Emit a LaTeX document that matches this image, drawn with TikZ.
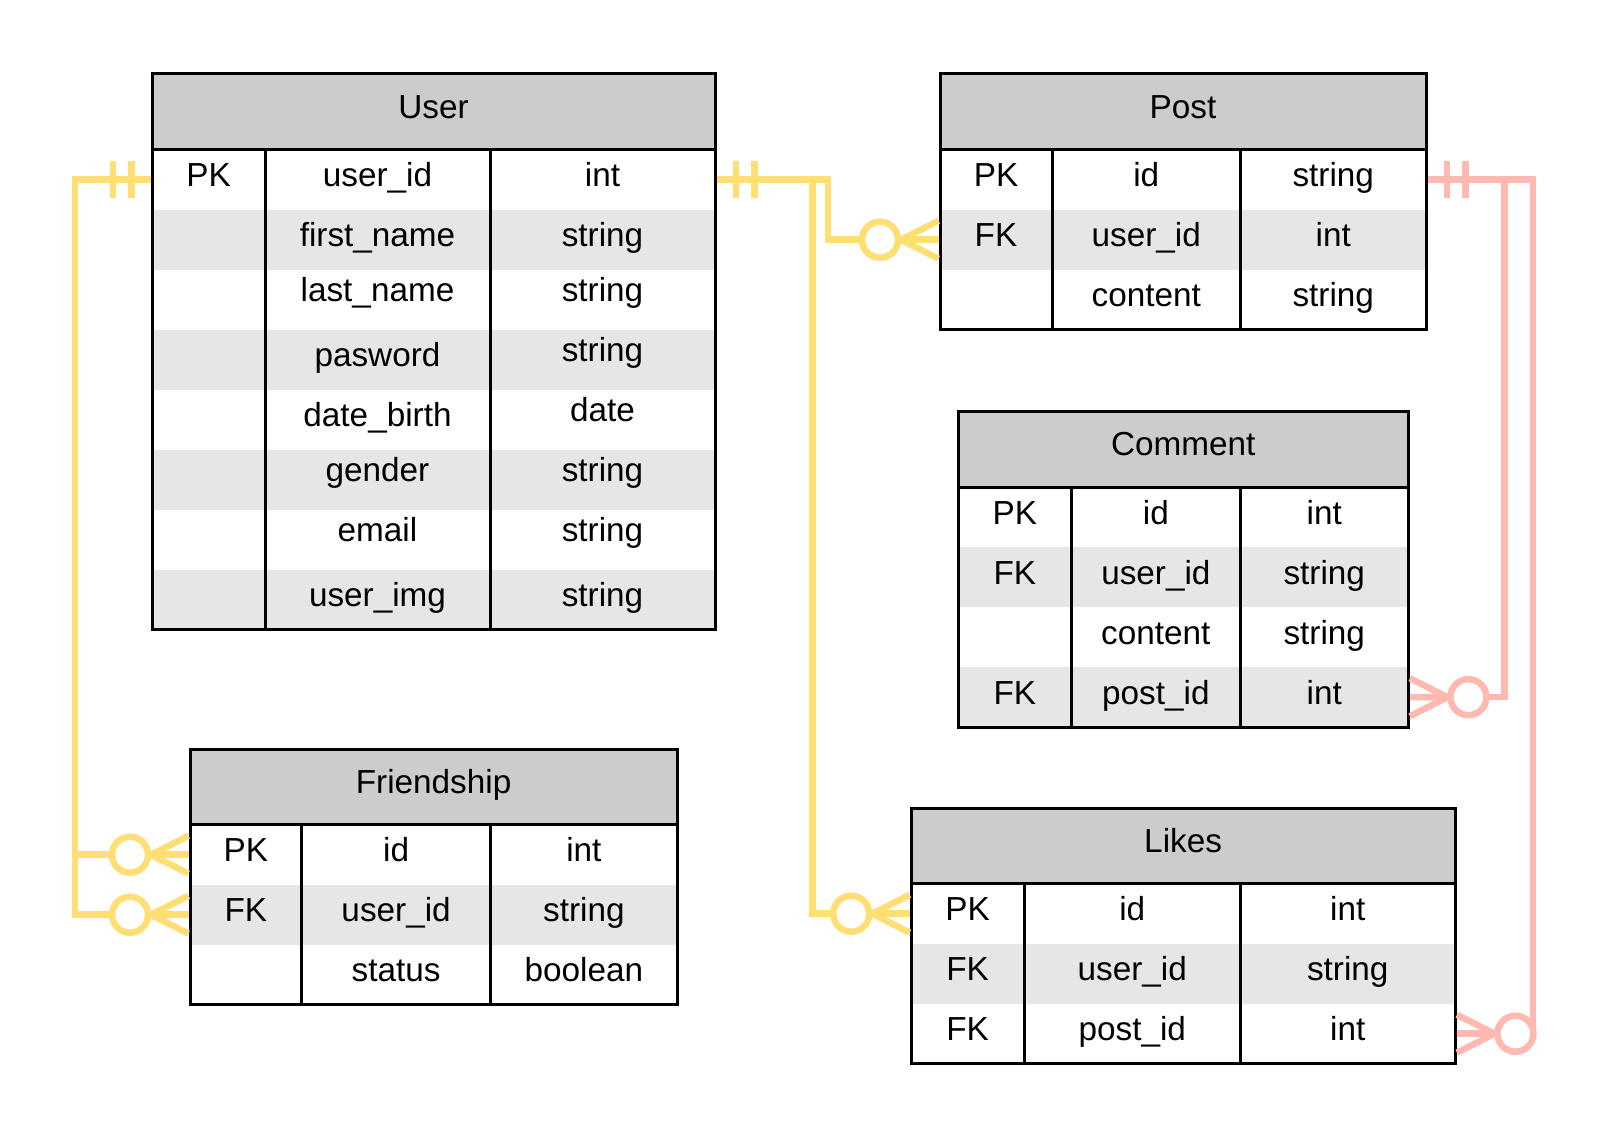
\documentclass[tikz,border=0pt]{standalone}
\usepackage{fontspec}
\setmainfont{Liberation Sans}

\definecolor{hdrgray}{HTML}{CCCCCC}
\definecolor{rowgray}{HTML}{E6E6E6}
\definecolor{relyellow}{HTML}{FFDE73}
\definecolor{relpink}{HTML}{FFB9B0}

\tikzset{
  hdrbox/.style={draw=none, fill=hdrgray, inner sep=0pt, minimum height=75.5pt},
  rowbox/.style={draw=none, inner sep=0pt, minimum height=60pt},
  txt/.style={anchor=base, inner sep=0pt, font=\fontsize{33.3}{40}\selectfont},
  frame/.style={draw=black, line width=3pt},
  rel/.style={line width=6.5pt, shorten <=1.5pt, shorten >=1.5pt},
  relmark/.style={line width=6.5pt},
  % zero-or-many end: circle plus crow's foot, the table border at the origin
  pics/zeromany/.style={code={
    \draw (-39,0) -- (-1.5,0) (-39,0) -- (-1.5,-19) (-39,0) -- (-1.5,19);
    \draw[fill=white] (-60,0) circle[radius=18pt];
  }},
  % exactly-one end: two bars across the line
  pics/onlyone/.style={code={
    \draw (-20.5,-18.5) -- (-20.5,18.5) (-39,-18.5) -- (-39,18.5);
  }},
}

% table header: name, left, first column line, second column line, right, top, title
\newcommand{\erhead}[7]{%
  \def\tN{#1}\def\tL{#2}\def\tA{#3}\def\tB{#4}\def\tR{#5}\def\tT{#6}%
  \node[hdrbox, minimum width={(#5-#2)*1pt}, anchor=north west] (#1) at (#2,#6) {};
  \node[txt] (#1-title) at ({(#2+#5)/2},{#6+44}) {#7};
}
% table row: index, fill, key, field, type, field lift, type lift
\newcommand{\errow}[7]{%
  \pgfmathsetmacro\rT{\tT+75.5+60*(#1-1)}%
  \node[rowbox, fill=#2, minimum width={(\tR-\tL)*1pt}, anchor=north west] (\tN-r#1) at (\tL,\rT) {};
  \node[txt] (\tN-k#1) at ({(\tL+\tA)/2},{\rT+37}) {#3};
  \node[txt] (\tN-f#1) at ({(\tA+\tB)/2},{\rT+37-#6}) {#4};
  \node[txt] (\tN-t#1) at ({(\tB+\tR)/2},{\rT+37-#7}) {#5};
}
% table outline and column lines: number of rows
\newcommand{\erframe}[1]{%
  \pgfmathsetmacro\rB{\tT+75.5+60*#1}%
  \pgfmathsetmacro\hB{\tT+75.5}%
  \draw[frame] (\tL,\tT) rectangle (\tR,\rB);
  \draw[frame] (\tL,\hB) -- (\tR,\hB) (\tA,\hB) -- (\tA,\rB) (\tB,\hB) -- (\tB,\rB);
}

\begin{document}
\begin{tikzpicture}[x=1pt, y=-1pt]
\fill[white] (0,0) rectangle (1609,1140);
\useasboundingbox (0,0) rectangle (1609,1140);

% User
\erhead{user}{152}{265}{490}{715}{74}{User}
\errow{1}{white}{PK}{user\_id}{int}{0}{0}
\errow{2}{rowgray}{}{first\_name}{string}{0}{0}
\errow{3}{white}{}{last\_name}{string}{5}{5}
\errow{4}{rowgray}{}{pasword}{string}{0}{5}
\errow{5}{white}{}{date\_birth}{date}{0}{5}
\errow{6}{rowgray}{}{gender}{string}{5}{5}
\errow{7}{white}{}{email}{string}{5}{5}
\errow{8}{rowgray}{}{user\_img}{string}{0}{0}
\erframe{8}

% Post
\erhead{post}{940}{1052}{1240.5}{1426}{74}{Post}
\errow{1}{white}{PK}{id}{string}{0}{0}
\errow{2}{rowgray}{FK}{user\_id}{int}{0}{0}
\errow{3}{white}{}{content}{string}{0}{0}
\erframe{3}

% Comment
\erhead{comment}{958.4}{1071.2}{1240.5}{1408}{411.5}{Comment}
\errow{1}{white}{PK}{id}{int}{0}{0}
\errow{2}{rowgray}{FK}{user\_id}{string}{0}{0}
\errow{3}{white}{}{content}{string}{0}{0}
\errow{4}{rowgray}{FK}{post\_id}{int}{0}{0}
\erframe{4}

% Friendship
\erhead{friend}{190}{301.7}{490.5}{677.2}{749}{Friendship}
\errow{1}{white}{PK}{id}{int}{0}{0}
\errow{2}{rowgray}{FK}{user\_id}{string}{0}{0}
\errow{3}{white}{}{status}{boolean}{0}{0}
\erframe{3}

% Likes
\erhead{likes}{911.2}{1024}{1240.5}{1455}{808}{Likes}
\errow{1}{white}{PK}{id}{int}{0}{0}
\errow{2}{rowgray}{FK}{user\_id}{string}{0}{0}
\errow{3}{white}{FK}{post\_id}{int}{0}{0}
\erframe{3}

% relations from User
\begin{scope}[relyellow]
  \draw[rel] (user-r1.west) -- ++(-77,0) |- (friend-r1.west);
  \draw[rel] (user-r1.west) -- ++(-77,0) |- (friend-r2.west);
  \draw[rel] (user-r1.east) -- ++(112.5,0) |- (post-r2.west);
  \draw[rel] (user-r1.east) -- ++(97,0) |- (likes-r1.west);
  \begin{scope}[relmark]
    \pic at (user-r1.west) {onlyone};
    \pic[rotate=180] at (user-r1.east) {onlyone};
    \pic at (friend-r1.west) {zeromany};
    \pic at (friend-r2.west) {zeromany};
    \pic at (post-r2.west) {zeromany};
    \pic at (likes-r1.west) {zeromany};
  \end{scope}
\end{scope}

% relations from Post
\begin{scope}[relpink]
  \draw[rel] (post-r1.east) -- ++(78,0) |- (comment-r4.east);
  \draw[rel] (post-r1.east) -- ++(106.5,0) |- (likes-r3.east);
  \begin{scope}[relmark]
    \pic[rotate=180] at (post-r1.east) {onlyone};
    \pic[rotate=180] at (comment-r4.east) {zeromany};
    \pic[rotate=180] at (likes-r3.east) {zeromany};
  \end{scope}
\end{scope}
\end{tikzpicture}
\end{document}
